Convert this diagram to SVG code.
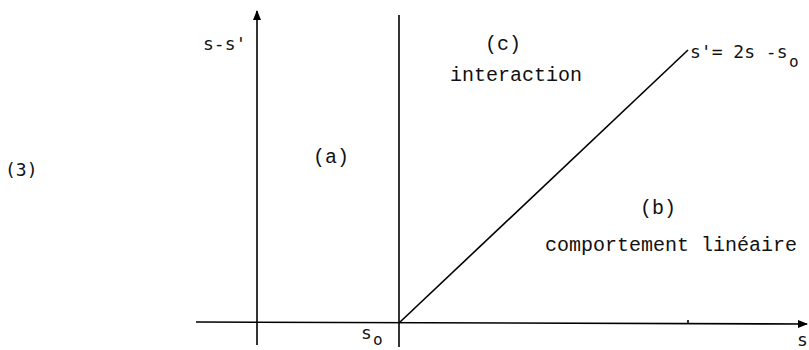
<svg xmlns="http://www.w3.org/2000/svg" width="809" height="350" viewBox="0 0 809 350">
<style>
.ln{stroke:#000;stroke-width:1.6;fill:none}
.tw{font-family:"Liberation Mono","Courier New",monospace;font-size:20px;fill:#111}
.sf{font-family:"DejaVu Sans Mono","Liberation Mono",monospace;font-size:18px;fill:#111}
.sub{font-family:"DejaVu Sans Mono","Liberation Mono",monospace;font-size:16px;fill:#111}
</style>
<defs>
<marker id="ah" markerWidth="10" markerHeight="8" refX="9" refY="4" orient="auto" markerUnits="userSpaceOnUse">
<path d="M0,0 L10,4 L0,8 Z" fill="#000"/>
</marker>
</defs>
<g id="connectors">
<line class="ln" x1="257" y1="345" x2="257" y2="11" marker-end="url(#ah)"/>
<line class="ln" x1="399" y1="15" x2="399" y2="347"/>
<line class="ln" x1="196" y1="322" x2="807" y2="324" marker-end="url(#ah)"/>
<line class="ln" x1="688" y1="320" x2="688" y2="324"/>
<line class="ln" x1="399" y1="323" x2="688" y2="50"/>
</g>
<g id="axis-y-label"><text class="sf" x="203" y="50">s-s'</text></g>
<g id="label-3"><text class="sf" x="5" y="176">(3)</text></g>
<g id="region-a"><text class="tw" x="313" y="163">(a)</text></g>
<g id="region-c"><text class="tw" x="485" y="50">(c)</text><text class="tw" x="450" y="81">interaction</text></g>
<g id="region-b"><text class="tw" x="640" y="214">(b)</text><text class="tw" x="545" y="251">comportement linéaire</text></g>
<g id="line-label"><text class="sf" x="690" y="58">s'= 2s -s</text><text class="sub" x="789" y="67">o</text></g>
<g id="s0-label"><text class="sf" x="361" y="339">s</text><text class="sub" x="373" y="345">o</text></g>
<g id="axis-x-label"><text class="sf" x="797" y="346">s</text></g>
</svg>
